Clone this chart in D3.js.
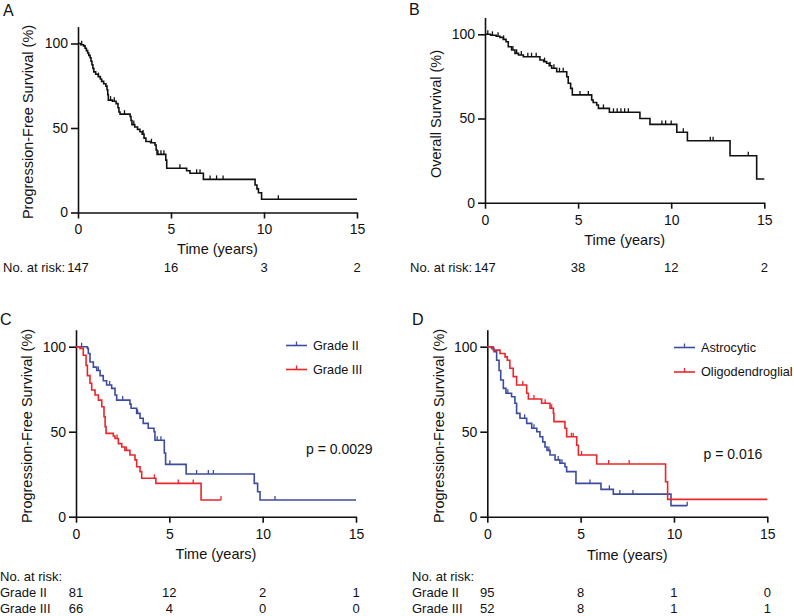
<!DOCTYPE html>
<html><head><meta charset="utf-8">
<script src="https://cdn.jsdelivr.net/npm/d3@7"></script>
<style>
body{margin:0;background:#fff;}
text{font-family:"Liberation Sans",Arial,Helvetica,sans-serif;fill:#111;}
</style></head>
<body><svg id="c" width="794" height="616"></svg>
<script>
// ---- Data ----
const xTicks = [0, 5, 10, 15];
const yTicks = [0, 50, 100];

// Panel A: progression-free survival, all patients [time (years), survival %]
const pfsAll = [[0,100],[0.15,99.3],[0.3,98.6],[0.38,97.2],[0.45,95.8],[0.52,94.4],[0.58,93],[0.65,91.6],[0.7,89.5],[0.75,87.4],[0.8,85.3],[0.85,83.2],[0.95,81.8],[1.09,80.4],[1.2,79],[1.27,77.6],[1.38,76.2],[1.5,74.8],[1.56,72.6],[1.6,69.7],[1.63,66.5],[1.85,65.8],[2.05,64.4],[2.15,62],[2.2,59.5],[2.26,58.2],[2.8,56.8],[2.85,54.4],[2.9,52],[3.05,50.6],[3.2,49.2],[3.33,47.8],[3.45,46.4],[3.55,44],[3.65,42],[3.9,41.3],[4.14,39.9],[4.2,37],[4.25,34.4],[4.72,31],[4.77,26.2],[5.84,24.7],[6.02,23.2],[6.74,19.6],[9.52,16.3],[9.62,14],[9.7,11.7],[9.87,7.8],[15,7.8]];
const pfsAllCens = [0.2,1.1,1.75,1.95,2.5,3.0,3.5,3.95,4.3,4.46,4.62,5.48,6.38,6.56,7.1,7.45,7.8,10.77];

// Panel B: overall survival
const osAll = [[0,100],[0.3,99.4],[0.6,98.8],[0.8,98.2],[0.98,97],[1.13,95.6],[1.25,92.6],[1.43,90.7],[1.61,88.7],[1.8,87.7],[2.06,86.7],[2.95,84.7],[3.15,83.8],[3.31,82.8],[3.45,81.3],[3.58,79.8],[3.85,77.8],[4.39,74.8],[4.47,70.9],[4.6,67.9],[4.69,64],[5.73,61],[5.81,59.5],[6.0,58],[6.09,56],[6.68,53.7],[8.32,50],[8.86,46.5],[10.3,41.8],[10.87,36.8],[13.16,27.9],[14.59,14.1],[15,14.1]];
const osAllCens = [0.15,0.4,0.7,1.0,1.5,1.7,1.95,2.3,2.5,2.75,3.2,3.5,3.7,4.0,4.2,5.1,5.55,6.36,6.9,7.1,7.3,7.5,7.7,9.5,9.7,10.0,10.65,12.1,12.25,14.14];

// Panel C: PFS by grade
const pfsGrade2 = [[0,100],[0.61,99],[0.66,96],[0.75,91],[0.93,88],[1.11,86],[1.29,83],[1.46,80],[1.64,77.5],[1.91,75.5],[2.09,71.6],[2.18,68.6],[2.89,66.2],[2.95,63.8],[3.25,60.8],[3.43,57.9],[3.6,54.9],[3.87,52],[4.18,50],[4.23,45],[4.73,37.5],[4.8,30.8],[5.9,25.1],[9.55,19.6],[9.73,14.7],[9.86,9.8],[15,9.8]];
const pfsGrade2Cens = [0.3,1.2,1.8,2.5,3.3,4.35,4.55,5.03,6.46,7.09,7.36,10.66];
const pfsGrade3 = [[0,100],[0.21,99],[0.39,95],[0.54,89],[0.61,83],[0.75,78.5],[0.84,74.5],[1.02,71.6],[1.2,68.6],[1.38,64.7],[1.5,58.8],[1.56,53],[1.61,49],[2.0,47.5],[2.09,46],[2.27,43],[2.45,41],[2.62,39],[2.89,36.3],[3.16,33.4],[3.25,29.4],[3.43,26.5],[3.52,22.6],[4.28,19.6],[6.7,9.8],[7.77,9.8]];
const pfsGrade3Cens = [2.2,2.7,4.2,5.48,6.28,7.77];

// Panel D: PFS by histology
const pfsAstro = [[0,100],[0.23,99],[0.36,97],[0.5,92],[0.63,86],[0.72,80.4],[0.86,75.5],[1.0,72.6],[1.3,70.6],[1.48,66.7],[1.57,60.8],[1.75,57.9],[2.11,54.9],[2.38,52],[2.65,50],[2.82,47],[2.97,44],[3.09,41],[3.2,39],[3.36,36.3],[3.63,33.4],[3.89,31.4],[4.16,29.4],[4.25,26.5],[4.75,19.6],[6.09,16.1],[6.75,13.3],[9.84,6.5],[10.71,6.5]];
const pfsAstroCens = [1.1,2.0,2.5,3.3,3.8,4.0,5.5,6.54,7.1,7.8,10.71];
const pfsOligo = [[0,100],[0.32,98],[0.68,96],[0.95,94],[1.07,92],[1.21,87.3],[1.39,82.4],[1.57,77.5],[2.11,72.6],[2.2,69.2],[2.91,66.7],[3.36,63.8],[3.54,60.8],[3.57,55.9],[4.16,52],[4.25,47],[4.79,42],[4.88,36.3],[5.86,31],[9.55,20.6],[9.66,10.2],[15,10.2]];
const pfsOligoCens = [1.9,2.5,3.1,3.45,4.5,4.6,5.05,6.5,7.6];

// Number at risk
const riskA = [147, 16, 3, 2];
const riskB = [147, 38, 12, 2];
const riskCGrade2 = [81, 12, 2, 1];
const riskCGrade3 = [66, 4, 0, 0];
const riskDGrade2 = [95, 8, 1, 0];
const riskDGrade3 = [52, 8, 1, 1];

const BLUE = "#3d4b9f", RED = "#e8262b", BLACK = "#111";

const svg = d3.select("#c");

function stepVal(pts, t){ let v = pts[0][1]; for (const p of pts){ if (p[0] <= t) v = p[1]; } return v; }

function panel(o){
  const g = svg.append("g");
  const x = d3.scaleLinear().domain([0,15]).range([o.x0, o.x15]);
  const y = d3.scaleLinear().domain([0,110]).range([o.y0, o.y0 - o.ppu*110]);
  const ax = g.append("g").attr("transform",`translate(0,${o.y0})`)
    .call(d3.axisBottom(x).tickValues(xTicks).tickSize(6).tickSizeOuter(0).tickPadding(6));
  const ay = g.append("g").attr("transform",`translate(${o.x0},0)`)
    .call(d3.axisLeft(y).tickValues(yTicks).tickSize(7).tickSizeOuter(0).tickPadding(3));
  [ax, ay].forEach(a=>{
    a.selectAll("path,line").attr("stroke",BLACK).attr("stroke-width",1.6);
    a.selectAll("text").attr("font-size",14).attr("fill",BLACK).style("font-family",'"Liberation Sans",Arial,sans-serif');
  });
  const line = d3.line().x(d=>x(d[0])).y(d=>y(d[1])).curve(d3.curveStepAfter);
  o.series.forEach(s=>{
    g.append("path").attr("d", line(s.pts)).attr("fill","none").attr("stroke",s.color).attr("stroke-width",1.6);
    g.selectAll(null).data(s.cens).enter().append("line")
      .attr("x1",d=>x(d)).attr("x2",d=>x(d))
      .attr("y1",d=>y(stepVal(s.pts,d))).attr("y2",d=>y(stepVal(s.pts,d))-4)
      .attr("stroke",s.color).attr("stroke-width",1.3);
  });
  g.append("text").attr("x",o.lx).attr("y",o.ly).attr("font-size",16).text(o.letter);
  g.append("text").attr("x",(o.x0+o.x15)/2).attr("y",o.titleY).attr("text-anchor","middle").attr("font-size",14.5).text("Time (years)");
  g.append("text").attr("transform",`translate(${o.ylabX},${o.ylabY}) rotate(-90)`).attr("text-anchor","middle").attr("font-size",14.5).text(o.ylab);
  return {g,x,y};
}

// Panel A
const A = panel({x0:78,x15:357,y0:212.5,ppu:1.69,letter:"A",lx:3,ly:16,titleY:254,ylabX:33,ylabY:122,
  ylab:"Progression-Free Survival (%)",series:[{pts:pfsAll,cens:pfsAllCens,color:BLACK}]});
A.g.append("text").attr("x",3).attr("y",272).attr("font-size",13).text("No. at risk:");
A.g.selectAll(null).data(riskA).enter().append("text").attr("x",(d,i)=>A.x(xTicks[i])).attr("y",272)
  .attr("text-anchor","middle").attr("font-size",13).text(d=>d);

// Panel B
const B = panel({x0:485,x15:764.3,y0:202.7,ppu:1.684,letter:"B",lx:409,ly:15,titleY:245,ylabX:441,ylabY:114,
  ylab:"Overall Survival (%)",series:[{pts:osAll,cens:osAllCens,color:BLACK}]});
B.g.append("text").attr("x",410).attr("y",272).attr("font-size",13).text("No. at risk:");
B.g.selectAll(null).data(riskB).enter().append("text").attr("x",(d,i)=>B.x(xTicks[i])).attr("y",272)
  .attr("text-anchor","middle").attr("font-size",13).text(d=>d);

function riskTable(P, x0, rows, names){
  P.g.append("text").attr("x",x0).attr("y",580.5).attr("font-size",13).text("No. at risk:");
  rows.forEach((r,j)=>{
    const yy = 596.5 + j*16.5;
    P.g.append("text").attr("x",x0).attr("y",yy).attr("font-size",13).text(names[j]);
    P.g.selectAll(null).data(r).enter().append("text").attr("x",(d,i)=>P.x(xTicks[i])).attr("y",yy)
      .attr("text-anchor","middle").attr("font-size",13).text(d=>d);
  });
}
function legend(P, lx, ys, items){
  items.forEach((it,i)=>{
    P.g.append("line").attr("x1",lx).attr("x2",lx+21).attr("y1",ys[i]).attr("y2",ys[i]).attr("stroke",it.color).attr("stroke-width",1.6);
    P.g.append("line").attr("x1",lx+10.5).attr("x2",lx+10.5).attr("y1",ys[i]).attr("y2",ys[i]-4).attr("stroke",it.color).attr("stroke-width",1.3);
    P.g.append("text").attr("x",lx+27).attr("y",ys[i]).attr("dy","0.35em").attr("font-size",12.7).text(it.name);
  });
}

// Panel C
const C = panel({x0:76,x15:356,y0:516.7,ppu:1.70,letter:"C",lx:0,ly:325,titleY:559,ylabX:32,ylabY:426,
  ylab:"Progression-Free Survival (%)",series:[
    {pts:pfsGrade2,cens:pfsGrade2Cens,color:BLUE},
    {pts:pfsGrade3,cens:pfsGrade3Cens,color:RED}]});
legend(C, 286, [345.5,369.5], [{name:"Grade II",color:BLUE},{name:"Grade III",color:RED}]);
C.g.append("text").attr("x",306).attr("y",454).attr("font-size",14).text("p = 0.0029");
riskTable(C, 0, [riskCGrade2, riskCGrade3], ["Grade II","Grade III"]);

// Panel D
const D = panel({x0:487.3,x15:767.3,y0:516.7,ppu:1.70,letter:"D",lx:412,ly:325,titleY:559.5,ylabX:444,ylabY:426,
  ylab:"Progression-Free Survival (%)",series:[
    {pts:pfsAstro,cens:pfsAstroCens,color:BLUE},
    {pts:pfsOligo,cens:pfsOligoCens,color:RED}]});
legend(D, 674, [347.5,372], [{name:"Astrocytic",color:BLUE},{name:"Oligodendroglial",color:RED}]);
D.g.append("text").attr("x",703.5).attr("y",459).attr("font-size",14).text("p = 0.016");
riskTable(D, 412, [riskDGrade2, riskDGrade3], ["Grade II","Grade III"]);
</script></body></html>
